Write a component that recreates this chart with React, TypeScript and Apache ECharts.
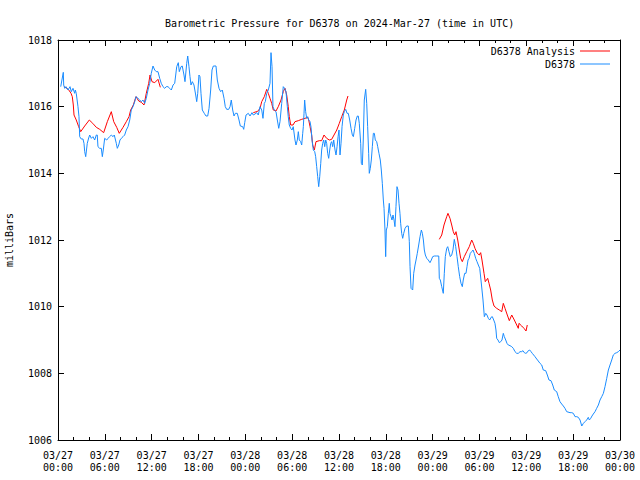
import React, { useEffect, useRef } from 'react';
import * as echarts from 'echarts';

const chartTitle = 'Barometric Pressure for D6378 on 2024-Mar-27 (time in UTC)';
const yAxisName = 'milliBars';
const dayLabels = ['03/27', '03/28', '03/29', '03/30'];
const analysisName = 'D6378 Analysis';
const obsName = 'D6378';

// [hours since 2024-03-27 00:00 UTC, millibars]
const obsData: [number, number][] = [
  [0.35,1016.6],[0.68,1017.03],[0.73,1016.65],[0.86,1016.55],[1.02,1016.6],[1.28,1016.5],[1.54,1016.6],[1.70,1016.45],
  [1.92,1016.55],[2.14,1016.4],[2.22,1016.5],[2.34,1016.4],[2.56,1016.0],[2.69,1015.7],[2.78,1015.1],[2.98,1015.03],
  [3.20,1015.03],[3.33,1014.9],[3.42,1014.65],[3.55,1014.5],[3.75,1014.9],[3.93,1015.06],[4.06,1015.15],[4.27,1015.05],
  [4.48,1015.1],[4.70,1015.0],[4.91,1015.15],[5.03,1015.15],[5.12,1014.8],[5.34,1014.75],[5.55,1014.75],[5.68,1014.5],
  [5.80,1014.7],[5.98,1015.05],[6.24,1015.0],[6.41,1015.05],[6.62,1015.1],[6.83,1015.15],[7.05,1015.1],[7.21,1015.15],
  [7.47,1014.9],[7.60,1014.75],[7.78,1014.85],[7.94,1015.0],[8.11,1015.05],[8.33,1015.1],[8.54,1015.15],[8.75,1015.3],
  [8.97,1015.4],[9.19,1015.6],[9.39,1015.9],[9.61,1016.0],[9.83,1016.15],[9.99,1016.3],[10.25,1016.25],[10.47,1016.2],
  [10.67,1016.15],[10.89,1016.2],[11.11,1016.1],[11.31,1016.25],[11.53,1016.5],[11.75,1016.7],[11.95,1017.0],[12.17,1017.22],
  [12.39,1017.1],[12.59,1017.05],[12.81,1017.05],[13.03,1016.85],[13.23,1016.7],[13.45,1016.6],[13.67,1016.55],[13.87,1016.6],
  [14.09,1016.6],[14.31,1016.55],[14.52,1016.5],[14.74,1016.65],[14.95,1016.7],[15.21,1017.2],[15.41,1017.32],[15.54,1017.05],
  [15.76,1017.2],[15.92,1017.22],[16.14,1016.95],[16.27,1016.75],[16.49,1017.3],[16.62,1017.52],[16.78,1017.2],[16.91,1016.9],
  [17.04,1016.65],[17.21,1016.75],[17.42,1016.65],[17.64,1016.35],[17.77,1016.15],[17.90,1016.4],[18.06,1016.95],[18.19,1016.9],
  [18.32,1016.4],[18.49,1015.9],[18.74,1015.8],[18.96,1015.72],[19.18,1015.72],[19.35,1015.95],[19.56,1016.5],[19.73,1017.1],
  [19.90,1017.22],[20.24,1017.22],[20.41,1016.8],[20.63,1016.55],[20.84,1016.45],[21.05,1016.5],[21.27,1016.25],[21.43,1016.0],
  [21.61,1015.92],[21.87,1015.92],[22.04,1016.0],[22.20,1016.2],[22.38,1015.9],[22.55,1015.72],[22.72,1015.8],[22.97,1015.8],
  [23.19,1015.6],[23.36,1015.42],[23.66,1015.4],[23.79,1015.32],[23.92,1015.52],[24.09,1015.75],[24.38,1015.8],[24.60,1015.72],
  [24.85,1015.82],[25.02,1015.75],[25.24,1015.78],[25.46,1015.82],[25.66,1015.75],[25.88,1016.0],[26.10,1015.9],[26.26,1015.65],
  [26.43,1016.1],[26.56,1016.15],[26.74,1016.4],[26.94,1016.5],[27.16,1016.7],[27.29,1017.62],[27.42,1017.2],[27.54,1016.0],
  [27.71,1015.9],[27.93,1015.85],[28.10,1015.6],[28.28,1015.35],[28.44,1015.55],[28.66,1016.1],[28.86,1016.6],[29.04,1016.55],
  [29.21,1016.45],[29.38,1016.0],[29.50,1015.7],[29.63,1015.45],[29.81,1015.35],[29.98,1015.3],[30.14,1015.4],[30.36,1015.0],
  [30.49,1014.85],[30.66,1015.0],[30.79,1015.25],[30.91,1015.0],[31.09,1014.95],[31.22,1014.85],[31.35,1015.2],[31.43,1015.4],
  [31.52,1015.8],[31.60,1016.2],[31.73,1015.85],[31.86,1015.65],[31.99,1015.7],[32.12,1015.6],[32.29,1015.55],[32.42,1015.38],
  [32.54,1015.0],[32.71,1014.7],[32.89,1014.65],[33.01,1014.5],[33.14,1014.2],[33.27,1013.9],[33.40,1013.6],[33.53,1013.9],
  [33.66,1014.3],[33.78,1014.7],[33.91,1014.9],[34.04,1015.0],[34.17,1014.8],[34.30,1015.0],[34.42,1014.9],[34.55,1014.6],
  [34.68,1014.45],[34.81,1014.7],[34.94,1014.9],[35.06,1014.95],[35.19,1014.8],[35.32,1015.0],[35.49,1014.7],[35.62,1014.55],
  [35.75,1014.8],[35.88,1015.1],[36.00,1015.3],[36.13,1014.55],[36.26,1014.9],[36.39,1015.4],[36.55,1015.75],[36.68,1015.85],
  [36.86,1015.92],[37.03,1015.8],[37.19,1015.8],[37.37,1015.6],[37.54,1015.35],[37.71,1015.15],[37.84,1015.1],[38.01,1015.35],
  [38.18,1015.6],[38.35,1015.72],[38.47,1015.72],[38.60,1015.5],[38.78,1014.9],[38.86,1014.3],[38.99,1014.25],[39.11,1015.0],
  [39.24,1016.2],[39.42,1016.52],[39.55,1016.1],[39.67,1015.4],[39.80,1014.6],[39.88,1014.0],[40.01,1014.15],[40.14,1014.4],
  [40.27,1014.8],[40.40,1015.2],[40.53,1015.2],[40.65,1015.0],[40.83,1014.95],[40.96,1014.8],[41.12,1014.6],[41.29,1014.4],
  [41.42,1014.1],[41.55,1013.7],[41.68,1013.2],[41.77,1012.95],[41.89,1012.3],[41.98,1011.5],[42.06,1012.3],[42.19,1012.4],
  [42.32,1012.8],[42.44,1013.1],[42.53,1012.8],[42.66,1012.7],[42.79,1012.6],[42.92,1012.75],[43.05,1012.6],[43.17,1012.4],
  [43.30,1013.0],[43.43,1013.6],[43.56,1013.5],[43.69,1013.1],[43.81,1012.8],[43.90,1012.5],[44.03,1012.2],[44.16,1012.05],
  [44.29,1012.2],[44.46,1012.35],[44.67,1012.42],[44.88,1012.42],[45.01,1011.95],[45.10,1011.2],[45.23,1010.55],[45.44,1010.5],
  [45.57,1011.0],[45.74,1011.25],[45.87,1011.4],[46.03,1011.6],[46.21,1011.85],[46.38,1012.1],[46.55,1012.3],[46.68,1012.2],
  [46.81,1012.0],[46.93,1011.7],[47.06,1011.55],[47.24,1011.45],[47.44,1011.4],[47.66,1011.32],[47.83,1011.4],[48.00,1011.5],
  [48.21,1011.52],[48.52,1011.52],[48.78,1011.52],[48.85,1010.85],[48.98,1010.8],[49.16,1010.6],[49.36,1010.4],[49.49,1011.0],
  [49.62,1011.5],[49.80,1011.75],[49.93,1011.8],[50.09,1011.65],[50.26,1011.5],[50.44,1011.55],[50.60,1011.7],[50.77,1012.02],
  [50.95,1011.8],[51.12,1011.5],[51.28,1011.2],[51.46,1010.9],[51.63,1010.7],[51.80,1010.6],[51.92,1010.8],[52.10,1011.0],
  [52.27,1011.0],[52.40,1011.2],[52.53,1011.4],[52.66,1011.45],[52.82,1011.6],[53.00,1011.65],[53.17,1011.7],[53.33,1011.6],
  [53.51,1011.45],[53.68,1011.35],[53.85,1011.25],[54.03,1011.15],[54.19,1010.8],[54.32,1010.5],[54.45,1010.2],[54.62,1009.7],
  [54.80,1009.8],[54.96,1009.75],[55.13,1009.65],[55.31,1009.6],[55.48,1009.68],[55.64,1009.7],[55.82,1009.6],[55.98,1009.5],
  [56.11,1009.3],[56.20,1009.05],[56.37,1009.0],[56.54,1008.92],[56.72,1008.95],[56.88,1009.0],[57.05,1009.2],[57.18,1009.1],
  [57.36,1009.0],[57.52,1008.9],[57.69,1008.85],[57.91,1008.83],[58.13,1008.8],[58.33,1008.75],[58.55,1008.65],[58.77,1008.6],
  [58.97,1008.6],[59.19,1008.65],[59.41,1008.65],[59.57,1008.68],[59.74,1008.62],[59.92,1008.6],[60.09,1008.62],[60.25,1008.68],
  [60.43,1008.7],[60.60,1008.65],[60.76,1008.6],[60.94,1008.55],[61.11,1008.5],[61.33,1008.43],[61.53,1008.37],[61.75,1008.3],
  [61.97,1008.25],[62.17,1008.1],[62.48,1008.08],[62.69,1007.95],[62.90,1007.8],[63.16,1007.78],[63.38,1007.65],[63.58,1007.5],
  [63.89,1007.45],[64.09,1007.3],[64.31,1007.15],[64.53,1007.08],[64.74,1007.02],[64.95,1006.95],[65.17,1006.85],[65.60,1006.82],
  [65.82,1006.82],[66.02,1006.8],[66.24,1006.7],[66.46,1006.7],[66.66,1006.68],[66.88,1006.6],[67.10,1006.42],[67.31,1006.5],
  [67.52,1006.55],[67.73,1006.6],[67.94,1006.68],[68.07,1006.6],[68.25,1006.65],[68.41,1006.72],[68.58,1006.78],[68.80,1006.85],
  [69.01,1006.95],[69.23,1007.05],[69.44,1007.2],[69.66,1007.3],[69.87,1007.4],[70.08,1007.6],[70.30,1007.85],[70.51,1008.1],
  [70.72,1008.25],[70.94,1008.4],[71.14,1008.55],[71.36,1008.6],[71.58,1008.62],[71.79,1008.65],[72.0,1008.7]
];

// null marks a gap between analysis runs
const analysisData: [number, number | null][] = [
  [0.81,1016.6],[1.32,1016.52],[1.67,1016.4],[1.83,1016.3],[1.96,1016.05],[2.05,1015.75],[2.34,1015.6],[2.65,1015.4],
  [2.91,1015.25],[3.42,1015.42],[4.01,1015.6],[4.45,1015.5],[4.91,1015.38],[5.34,1015.32],[5.85,1015.22],[6.32,1015.55],
  [6.83,1015.85],[7.14,1015.55],[7.52,1015.38],[7.85,1015.2],[8.33,1015.38],[8.75,1015.55],[9.10,1015.7],[9.31,1015.9],
  [9.65,1016.05],[9.99,1016.3],[10.34,1016.17],[10.67,1016.13],[11.02,1016.05],[11.31,1016.4],[11.62,1016.7],[11.79,1016.95],
  [12.04,1016.75],[12.39,1016.72],[12.81,1016.82],[13.11,1016.58],
  [19.0,null],
  [25.02,1015.82],[25.58,1015.86],[25.88,1015.95],[26.10,1016.15],[26.43,1016.3],[26.74,1016.52],[26.94,1016.4],[27.16,1016.25],
  [27.38,1016.1],[27.58,1015.9],[27.93,1015.87],[28.22,1016.0],[28.57,1016.2],[28.86,1016.45],[29.08,1016.55],[29.30,1016.35],
  [29.50,1016.0],[29.63,1015.7],[29.81,1015.45],[30.11,1015.45],[30.36,1015.55],[30.79,1015.58],[31.22,1015.62],[31.64,1015.65],
  [31.99,1015.68],[32.12,1015.6],[32.29,1015.4],[32.50,1015.15],[32.63,1014.85],[32.84,1014.7],[33.05,1014.95],[33.48,1014.98],
  [33.78,1014.98],[34.08,1015.15],[34.42,1015.05],[34.76,1015.0],[35.06,1015.02],[35.36,1015.15],[35.71,1015.3],[36.04,1015.5],
  [36.35,1015.7],[36.68,1015.9],[36.99,1016.2],[37.15,1016.32],
  [43.0,null],
  [48.85,1012.02],[49.16,1012.15],[49.45,1012.45],[49.80,1012.7],[49.96,1012.8],[50.22,1012.65],[50.44,1012.45],[50.64,1012.25],
  [50.82,1012.15],[50.99,1012.25],[51.21,1012.0],[51.41,1011.7],[51.59,1011.45],[51.80,1011.35],[52.05,1011.5],[52.36,1011.65],
  [52.69,1011.8],[53.00,1012.0],[53.20,1011.9],[53.42,1011.75],[53.72,1011.6],[53.97,1011.55],[54.15,1011.62],[54.32,1011.4],
  [54.58,1011.0],[54.74,1010.75],[55.05,1010.85],[55.22,1010.7],[55.43,1010.5],[55.64,1010.2],[55.86,1010.02],[56.20,1009.95],
  [56.54,1009.9],[56.85,1009.85],[57.05,1010.1],[57.27,1009.95],[57.56,1009.75],[57.82,1009.58],[58.13,1009.75],[58.46,1009.6],
  [58.77,1009.45],[58.97,1009.35],[59.06,1009.5],[59.41,1009.42],[59.70,1009.35],[59.96,1009.27],[60.12,1009.45]
];

const FONT = 'DejaVu Sans Mono';

function xLabel(h: number): string {
  const d = Math.floor(h / 24);
  const hr = Math.round(h - d * 24);
  return dayLabels[d] + '\n' + String(hr).padStart(2, '0') + ':00';
}

export default function App() {
  const ref = useRef<HTMLDivElement>(null);
  useEffect(() => {
    const chart = echarts.init(ref.current!, null, { renderer: 'svg' });
    const black = '#000';
    const baseX = {
      type: 'value',
      min: 0,
      max: 72,
      interval: 6,
      axisLine: { show: true, onZero: false, lineStyle: { color: black, width: 1 } },
      axisTick: { show: true, inside: true, length: 6, lineStyle: { color: black } },
      minorTick: { show: true, splitNumber: 3, length: 3, lineStyle: { color: black } },
      splitLine: { show: false },
      minorSplitLine: { show: false },
    };
    const baseY = {
      type: 'value',
      min: 1006,
      max: 1018,
      interval: 2,
      axisLine: { show: true, onZero: false, lineStyle: { color: black, width: 1 } },
      axisTick: { show: true, inside: true, length: 6, lineStyle: { color: black } },
      splitLine: { show: false },
    };
    chart.setOption({
      animation: false,
      backgroundColor: '#fff',
      title: {
        text: chartTitle,
        left: 160,
        top: 13,
        textStyle: { fontFamily: FONT, fontSize: 10, fontWeight: 'normal', color: black },
      },
      legend: {
        orient: 'vertical',
        right: 25,
        top: 40,
        align: 'right',
        icon: 'rect',
        itemWidth: 30,
        itemHeight: 1,
        itemGap: 1,
        textStyle: { fontFamily: FONT, fontSize: 10, color: black, lineHeight: 12 },
        data: [analysisName, obsName],
      },
      grid: { left: 58, right: 20, top: 40, bottom: 40, outerBoundsMode: 'none', containLabel: false },
      xAxis: [
        {
          ...baseX,
          position: 'bottom',
          axisLabel: {
            formatter: (v: number) => xLabel(v),
            fontFamily: FONT,
            fontSize: 10,
            color: black,
            margin: 9,
            lineHeight: 12,
          },
        },
        { ...baseX, position: 'top', axisLabel: { show: false } },
      ],
      yAxis: [
        {
          ...baseY,
          position: 'left',
          name: yAxisName,
          nameLocation: 'middle',
          nameGap: 44,
          nameRotate: 90,
          nameTextStyle: { fontFamily: FONT, fontSize: 10, color: black },
          axisLabel: {
            fontFamily: FONT,
            fontSize: 10,
            color: black,
            margin: 6,
            formatter: (v: number) => String(v),
          },
        },
        { ...baseY, position: 'right', axisLabel: { show: false } },
      ],
      series: [
        {
          name: analysisName,
          type: 'line',
          xAxisIndex: 0,
          yAxisIndex: 0,
          symbol: 'none',
          connectNulls: false,
          data: analysisData.map(([h, v]) => [h, v === null ? '-' : v]),
          lineStyle: { color: '#ff0000', width: 1 },
          itemStyle: { color: '#ff0000' },
        },
        {
          name: obsName,
          type: 'line',
          xAxisIndex: 0,
          yAxisIndex: 0,
          symbol: 'none',
          data: obsData,
          lineStyle: { color: '#1a8cff', width: 1 },
          itemStyle: { color: '#1a8cff' },
        },
      ],
    });
    return () => chart.dispose();
  }, []);
  return (
    <div
      ref={ref}
      style={{ position: 'fixed', left: 0, top: 0, width: 640, height: 480, background: '#fff' }}
    />
  );
}
